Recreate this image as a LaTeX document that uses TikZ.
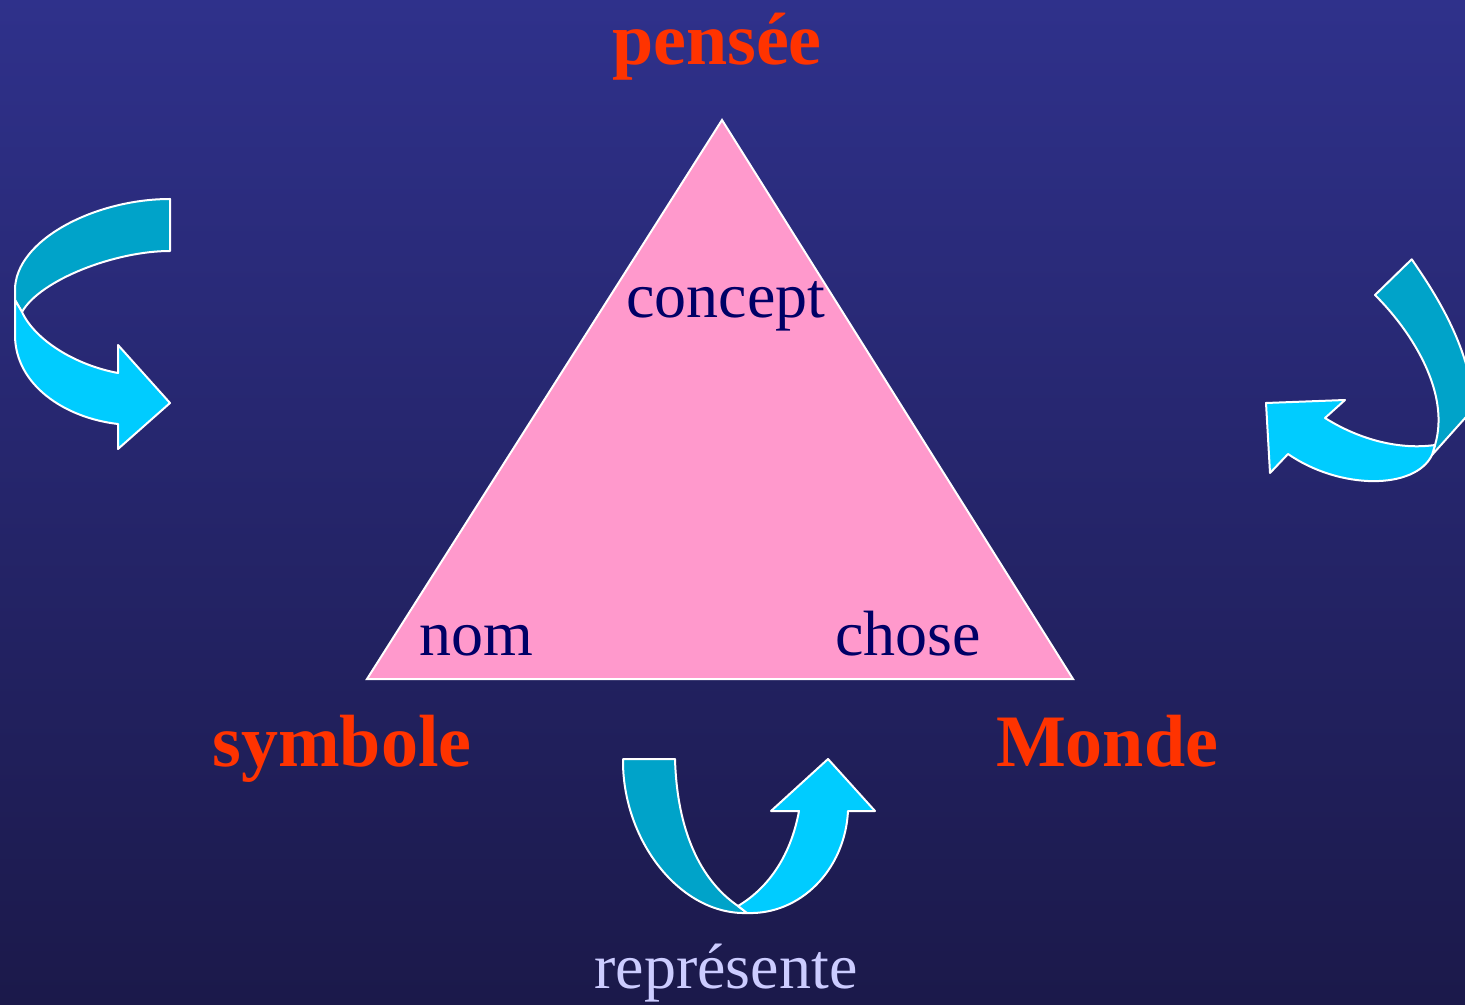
\documentclass[tikz,border=0pt]{standalone}
\usepackage{fontspec}
\setmainfont{Liberation Serif}
\usetikzlibrary{positioning}
\definecolor{bgtop}{RGB}{47,49,139}
\definecolor{bgbot}{RGB}{27,25,74}
\definecolor{tripink}{RGB}{255,153,204}
\definecolor{labred}{RGB}{255,51,0}
\definecolor{labnavy}{RGB}{0,0,102}
\definecolor{lavender}{RGB}{204,204,255}
\definecolor{ribdark}{RGB}{0,163,201}
\definecolor{riblight}{RGB}{0,204,255}
\begin{document}
\begin{tikzpicture}[x=0.5pt,y=-0.5pt,
  big/.style={font=\fontsize{37}{40}\selectfont\bfseries,text=labred,inner sep=0pt,anchor=base},
  small/.style={font=\fontsize{32}{36}\selectfont,text=labnavy,inner sep=0pt,anchor=base},
  ribbon/.style={draw=white,line width=1pt,line join=round},
  dark/.style={ribbon,fill=ribdark},
  light/.style={ribbon,fill=riblight}]
\clip (0,0) rectangle (1465,1005);
\shade[top color=bgtop,bottom color=bgbot] (0,0) rectangle (1465,1005);
% triangle
\coordinate (apex) at (722,120);
\coordinate (bl) at (367,679);
\coordinate (br) at (1073,679);
\draw[fill=tripink,draw=white,line width=1pt,line join=miter] (apex) -- (br) -- (bl) -- cycle;
\node[big] (pensee) at (717,65) {pensée};
\node[big] (symbole) at (342,766) {symbole};
\node[big] (monde) at (1107,766) {Monde};
\node[small] (concept) at (726,318) {concept};
\node[small] (nom) at (476,655) {nom};
\node[small] (chose) at (908,655) {chose};
\node[small,text=lavender] (repr) at (726,988) {représente};
% left ribbon
\draw[dark] (170,199) -- (170,251) .. controls (115,251) and (40,280) .. (22,312)
  -- (15,300) -- (15,290) .. controls (15,240) and (95,199) .. (170,199) -- cycle;
\draw[light] (15,300) -- (15,335) .. controls (15,385) and (65,418) .. (118,424)
  -- (118,449) -- (170,403) -- (118,345) -- (118,373)
  .. controls (75,365) and (35,340) .. (22,312) -- cycle;
% right ribbon
\draw[dark] (1411.7,259.3) -- (1375,295) .. controls (1415,335) and (1450,395) .. (1435,445)
  -- (1432,455) -- (1474,408) .. controls (1470,350) and (1440,300) .. (1411.7,259.3) -- cycle;
\draw[light] (1432,455) .. controls (1415,490) and (1340,490) .. (1288,454)
  -- (1270,473) -- (1266,403) -- (1345,400) -- (1325,418)
  .. controls (1360,440) and (1400,450) .. (1435,445) -- cycle;
% bottom ribbon
\draw[dark] (623,759) -- (675,759) .. controls (677,830) and (700,880) .. (738,906)
  -- (747,913) .. controls (680,915) and (622,840) .. (623,759) -- cycle;
\draw[light] (747,913) .. controls (800,915) and (845,870) .. (848,811)
  -- (875,811) -- (828,759) -- (771,811) -- (799,811)
  .. controls (790,860) and (765,890) .. (738,906) -- cycle;
\end{tikzpicture}
\end{document}
